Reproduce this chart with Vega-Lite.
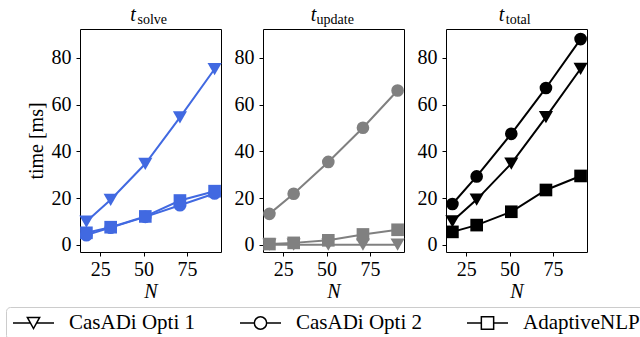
{
  "$schema": "https://vega.github.io/schema/vega-lite/v6.json",
  "padding": {"left": 5, "top": 4, "right": 0, "bottom": 0},
  "background": "white",
  "spacing": 42,
  "bounds": "flush",
  "datasets": {
    "times": [
      {"panel": "solve", "series": "CasADi Opti 1", "N": 17, "t": 10},
      {"panel": "solve", "series": "CasADi Opti 1", "N": 31, "t": 19.3},
      {"panel": "solve", "series": "CasADi Opti 1", "N": 51, "t": 34.7},
      {"panel": "solve", "series": "CasADi Opti 1", "N": 71, "t": 54.5},
      {"panel": "solve", "series": "CasADi Opti 1", "N": 91, "t": 75.2},
      {"panel": "solve", "series": "CasADi Opti 2", "N": 17, "t": 4.2},
      {"panel": "solve", "series": "CasADi Opti 2", "N": 31, "t": 7.4},
      {"panel": "solve", "series": "CasADi Opti 2", "N": 51, "t": 12},
      {"panel": "solve", "series": "CasADi Opti 2", "N": 71, "t": 17},
      {"panel": "solve", "series": "CasADi Opti 2", "N": 91, "t": 22},
      {"panel": "solve", "series": "AdaptiveNLP", "N": 17, "t": 5.2},
      {"panel": "solve", "series": "AdaptiveNLP", "N": 31, "t": 7.6},
      {"panel": "solve", "series": "AdaptiveNLP", "N": 51, "t": 12.2},
      {"panel": "solve", "series": "AdaptiveNLP", "N": 71, "t": 19},
      {"panel": "solve", "series": "AdaptiveNLP", "N": 91, "t": 23},
      {"panel": "update", "series": "CasADi Opti 1", "N": 17, "t": 0.1},
      {"panel": "update", "series": "CasADi Opti 1", "N": 31, "t": 0.1},
      {"panel": "update", "series": "CasADi Opti 1", "N": 51, "t": 0.1},
      {"panel": "update", "series": "CasADi Opti 1", "N": 71, "t": 0.1},
      {"panel": "update", "series": "CasADi Opti 1", "N": 91, "t": 0.1},
      {"panel": "update", "series": "CasADi Opti 2", "N": 17, "t": 13.3},
      {"panel": "update", "series": "CasADi Opti 2", "N": 31, "t": 21.9},
      {"panel": "update", "series": "CasADi Opti 2", "N": 51, "t": 35.5},
      {"panel": "update", "series": "CasADi Opti 2", "N": 71, "t": 50.1},
      {"panel": "update", "series": "CasADi Opti 2", "N": 91, "t": 66},
      {"panel": "update", "series": "AdaptiveNLP", "N": 17, "t": 0.4},
      {"panel": "update", "series": "AdaptiveNLP", "N": 31, "t": 0.9},
      {"panel": "update", "series": "AdaptiveNLP", "N": 51, "t": 2},
      {"panel": "update", "series": "AdaptiveNLP", "N": 71, "t": 4.5},
      {"panel": "update", "series": "AdaptiveNLP", "N": 91, "t": 6.5},
      {"panel": "total", "series": "CasADi Opti 1", "N": 17, "t": 10.1},
      {"panel": "total", "series": "CasADi Opti 1", "N": 31, "t": 19.4},
      {"panel": "total", "series": "CasADi Opti 1", "N": 51, "t": 34.8},
      {"panel": "total", "series": "CasADi Opti 1", "N": 71, "t": 54.6},
      {"panel": "total", "series": "CasADi Opti 1", "N": 91, "t": 75.3},
      {"panel": "total", "series": "CasADi Opti 2", "N": 17, "t": 17.5},
      {"panel": "total", "series": "CasADi Opti 2", "N": 31, "t": 29.3},
      {"panel": "total", "series": "CasADi Opti 2", "N": 51, "t": 47.5},
      {"panel": "total", "series": "CasADi Opti 2", "N": 71, "t": 67.1},
      {"panel": "total", "series": "CasADi Opti 2", "N": 91, "t": 88},
      {"panel": "total", "series": "AdaptiveNLP", "N": 17, "t": 5.6},
      {"panel": "total", "series": "AdaptiveNLP", "N": 31, "t": 8.5},
      {"panel": "total", "series": "AdaptiveNLP", "N": 51, "t": 14.2},
      {"panel": "total", "series": "AdaptiveNLP", "N": 71, "t": 23.5},
      {"panel": "total", "series": "AdaptiveNLP", "N": 91, "t": 29.5}
    ]
  },
  "config": {
    "font": "Liberation Serif",
    "view": {"stroke": "black", "strokeWidth": 1},
    "axis": {
      "domain": false, "grid": false, "tickColor": "black", "tickSize": 4, "tickWidth": 1,
      "labelFont": "Liberation Serif", "labelFontSize": 20, "labelColor": "black",
      "titleFont": "Liberation Serif", "titleFontSize": 20, "titleFontWeight": "normal", "titleColor": "black"
    },
    "axisX": {"labelPadding": 3, "titlePadding": 2, "titleFontStyle": "italic"},
    "axisY": {"labelPadding": 5, "titlePadding": 5},
    "title": {
      "font": "Liberation Serif", "fontSize": 20, "fontStyle": "italic", "fontWeight": "normal", "color": "black",
      "subtitleFont": "Liberation Serif", "subtitleFontSize": 14, "subtitleColor": "black", "subtitlePadding": -12, "offset": 2
    }
  },
  "hconcat": [
    {
      "width": 141, "height": 223,
      "data": {"name": "times"},
      "transform": [{"filter": "datum.panel === 'solve'"}],
      "title": {"text": "t\u00a0\u00a0\u00a0\u00a0\u00a0\u00a0\u00a0\u200b", "subtitle": "\u200b\u00a0solve"},
      "encoding": {
        "x": {"field": "N", "type": "quantitative", "scale": {"domain": [13.3, 94.7], "nice": false, "zero": false}, "axis": {"values": [25, 50, 75], "title": "N"}},
        "y": {"field": "t", "type": "quantitative", "scale": {"domain": [-3, 92.3], "nice": false, "zero": false}, "axis": {"values": [0, 20, 40, 60, 80], "title": "time [ms]"}},
        "detail": {"field": "series", "type": "nominal"}
      },
      "layer": [
        {"mark": {"type": "line", "color": "#4169E1", "strokeWidth": 2}},
        {
          "mark": {"type": "point", "filled": true, "opacity": 1, "color": "#4169E1"},
          "encoding": {
            "shape": {"condition": [{"test": "datum.series === 'CasADi Opti 1'", "value": "triangle-down"}, {"test": "datum.series === 'CasADi Opti 2'", "value": "circle"}], "value": "square"},
            "size": {"condition": {"test": "datum.series === 'CasADi Opti 1'", "value": 200}, "value": 160}
          }
        },
        {
          "mark": {"type": "point", "filled": false, "opacity": 0, "color": "black"},
          "encoding": {
            "shape": {
              "field": "series", "type": "nominal",
              "scale": {
                "domain": ["CasADi Opti 1", "CasADi Opti 2", "AdaptiveNLP"],
                "range": [
                  "M-1,0L-0.15,0M0.15,0L1,0M-0.3,-0.27L0.3,-0.27L0,0.27Z",
                  "M-1,0L-0.3,0M0.3,0L1,0M-0.3,0C-0.3,-0.1657,-0.1657,-0.3,0,-0.3C0.1657,-0.3,0.3,-0.1657,0.3,0C0.3,0.1657,0.1657,0.3,0,0.3C-0.1657,0.3,-0.3,0.1657,-0.3,0Z",
                  "M-1,0L-0.3,0M0.3,0L1,0M-0.3,-0.3L0.3,-0.3L0.3,0.3L-0.3,0.3Z"
                ]
              },
              "legend": {
                "orient": "none", "legendX": -74, "legendY": 278, "direction": "horizontal", "title": null,
                "symbolSize": 1681, "symbolStrokeWidth": 1.5, "symbolStrokeColor": "black", "symbolFillColor": "white", "symbolOpacity": 1,
                "labelFont": "Liberation Serif", "labelFontSize": 21, "labelColor": "black", "labelOffset": 14, "labelLimit": 300,
                "columnPadding": 44, "padding": 6, "strokeColor": "#cccccc", "fillColor": "white", "cornerRadius": 4, "clipHeight": 20,
                "encoding": {
                  "symbols": {
                    "fill": {"value": "white"}, "stroke": {"value": "black"}, "strokeWidth": {"value": 1.5}, "opacity": {"value": 1}, "size": {"value": 1681}
                  }
                }
              }
            }
          }
        }
      ]
    },
    {
      "width": 141, "height": 223,
      "data": {"name": "times"},
      "transform": [{"filter": "datum.panel === 'update'"}],
      "title": {"text": "t\u00a0\u00a0\u00a0\u00a0\u00a0\u00a0\u00a0\u00a0\u200b", "subtitle": "\u200b\u00a0update"},
      "encoding": {
        "x": {"field": "N", "type": "quantitative", "scale": {"domain": [13.3, 94.7], "nice": false, "zero": false}, "axis": {"values": [25, 50, 75], "title": "N"}},
        "y": {"field": "t", "type": "quantitative", "scale": {"domain": [-3, 92.3], "nice": false, "zero": false}, "axis": {"values": [0, 20, 40, 60, 80], "title": null}},
        "detail": {"field": "series", "type": "nominal"}
      },
      "layer": [
        {"mark": {"type": "line", "color": "#808080", "strokeWidth": 2}},
        {
          "mark": {"type": "point", "filled": true, "opacity": 1, "color": "#808080"},
          "encoding": {
            "shape": {"condition": [{"test": "datum.series === 'CasADi Opti 1'", "value": "triangle-down"}, {"test": "datum.series === 'CasADi Opti 2'", "value": "circle"}], "value": "square"},
            "size": {"condition": {"test": "datum.series === 'CasADi Opti 1'", "value": 200}, "value": 160}
          }
        }
      ]
    },
    {
      "width": 141, "height": 223,
      "data": {"name": "times"},
      "transform": [{"filter": "datum.panel === 'total'"}],
      "title": {"text": "t\u00a0\u00a0\u00a0\u00a0\u00a0\u00a0\u200b", "subtitle": "\u200b\u00a0total"},
      "encoding": {
        "x": {"field": "N", "type": "quantitative", "scale": {"domain": [13.3, 94.7], "nice": false, "zero": false}, "axis": {"values": [25, 50, 75], "title": "N"}},
        "y": {"field": "t", "type": "quantitative", "scale": {"domain": [-3, 92.3], "nice": false, "zero": false}, "axis": {"values": [0, 20, 40, 60, 80], "title": null}},
        "detail": {"field": "series", "type": "nominal"}
      },
      "layer": [
        {"mark": {"type": "line", "color": "black", "strokeWidth": 2}},
        {
          "mark": {"type": "point", "filled": true, "opacity": 1, "color": "black"},
          "encoding": {
            "shape": {"condition": [{"test": "datum.series === 'CasADi Opti 1'", "value": "triangle-down"}, {"test": "datum.series === 'CasADi Opti 2'", "value": "circle"}], "value": "square"},
            "size": {"condition": {"test": "datum.series === 'CasADi Opti 1'", "value": 200}, "value": 160}
          }
        }
      ]
    }
  ]
}
